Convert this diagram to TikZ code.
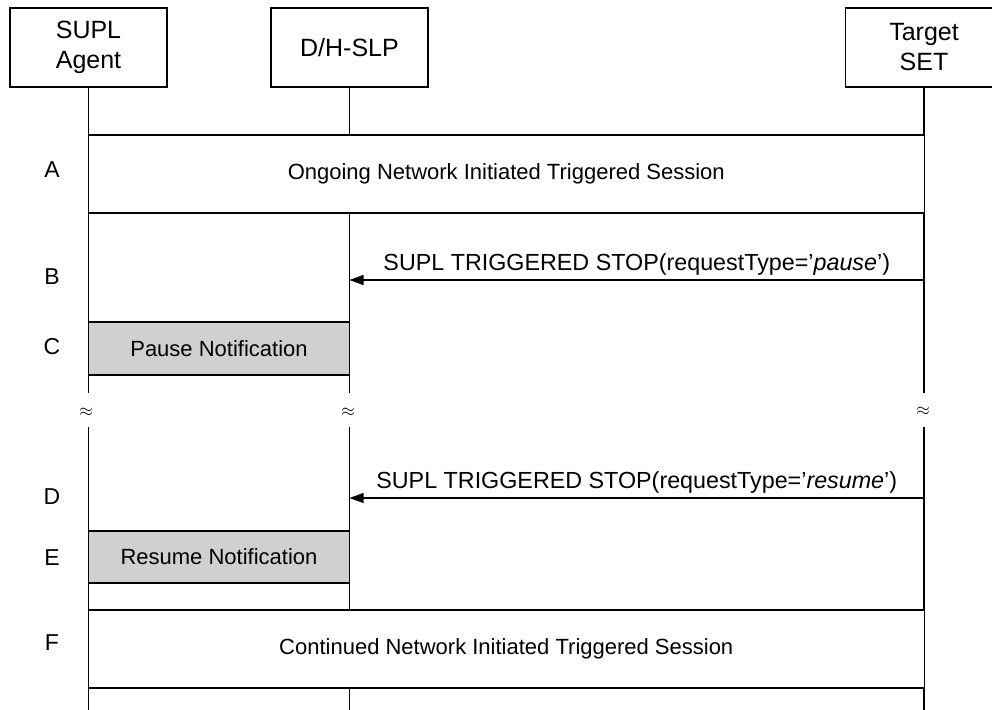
\documentclass[tikz,border=0pt]{standalone}
\usepackage{fontspec}
\setmainfont{Liberation Sans}
\usetikzlibrary{arrows.meta}
\definecolor{boxgray}{RGB}{208,208,208}
\begin{document}
\begin{tikzpicture}[x=1pt,y=-1pt,line width=1.1pt,
  hdr/.style={draw,fill=white,minimum width=157pt,minimum height=79pt,align=center,inner sep=0pt,
    font=\fontsize{25}{30}\selectfont},
  txt/.style={font=\fontsize{22}{26}\selectfont},
  msgtxt/.style={font=\fontsize{23.3}{26}\selectfont},
  wide/.style={draw,fill=white,minimum width=836pt,minimum height=78pt,inner sep=0pt,txt},
  act/.style={draw,fill=boxgray,minimum width=260.5pt,inner sep=0pt,txt},
  step letter/.style={font=\fontsize{23}{26}\selectfont},
  brk/.style={font=\fontsize{17}{17}\selectfont,inner sep=0pt},
  msg/.style={-{Triangle[length=14pt,width=10pt]}}]
\useasboundingbox (0,0) rectangle (992,709);

% headers
\node[hdr] (sa) at (88.5,47.5) {SUPL\\Agent};
\node[hdr] (slp) at (349.5,47.5) {D/H-SLP};
\node[hdr] (set) at (924,47.5) {Target\\SET};

% lifeline coordinates
\coordinate (sa1) at (88.5,393);
\coordinate (sa2) at (88.5,427);
\coordinate (sa3) at (88.5,712);
\coordinate (slp1) at (349.5,393);
\coordinate (slp2) at (349.5,427);
\coordinate (slp3) at (349.5,712);
\coordinate (set1) at (924,393);
\coordinate (set2) at (924,427);
\coordinate (set3) at (924,712);

\draw (sa.south) -- (sa1) (sa2) -- (sa3);
\draw (slp.south) -- (slp1) (slp2) -- (slp3);
\draw (set.south) -- (set1) (set2) -- (set3);

\node[brk] (bk1) at (86,412) {$\approx$};
\node[brk] (bk2) at (348,412) {$\approx$};
\node[brk] (bk3) at (923,411) {$\approx$};

% A
\node[wide] (A) at (506.25,174) {Ongoing Network Initiated Triggered Session};
% B
\coordinate (bS) at (924,280);
\coordinate (bE) at (349.5,280);
\draw[msg] (bS) -- node[above,msgtxt,yshift=1pt] (bL) {SUPL TRIGGERED STOP(requestType=’\textit{pause}’)} (bE);
% C
\node[act,minimum height=53pt] (C) at (219,348.5) {Pause Notification};
% D
\coordinate (dS) at (924,498);
\coordinate (dE) at (349.5,498);
\draw[msg] (dS) -- node[above,msgtxt,yshift=1pt] (dL) {SUPL TRIGGERED STOP(requestType=’\textit{resume}’)} (dE);
% E
\node[act,minimum height=52pt] (E) at (219,557) {Resume Notification};
% F
\node[wide] (F) at (506.25,649) {Continued Network Initiated Triggered Session};

% letters
\node[step letter] (lA) at (52,170) {A};
\node[step letter] (lB) at (52,277) {B};
\node[step letter] (lC) at (52,347) {C};
\node[step letter] (lD) at (52,497) {D};
\node[step letter] (lE) at (52,558) {E};
\node[step letter] (lF) at (52,643) {F};
\end{tikzpicture}
\end{document}
